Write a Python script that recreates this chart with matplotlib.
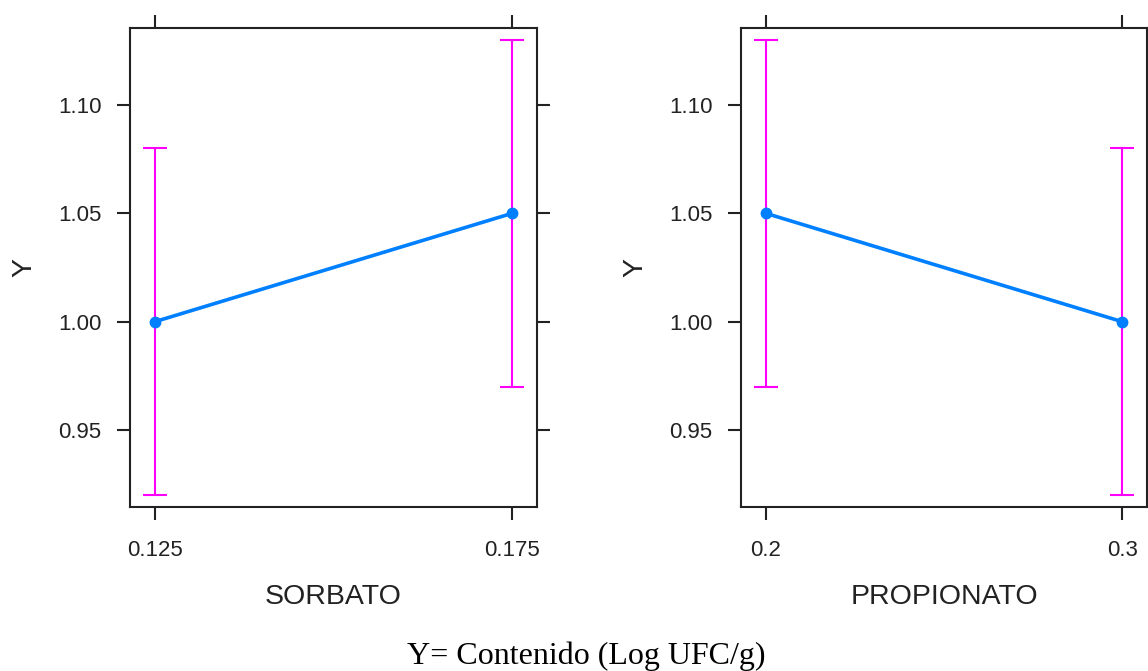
import matplotlib
matplotlib.use("Agg")
import matplotlib.pyplot as plt

# Data
sorbato_x = [0.125, 0.175]
sorbato_y = [1.00, 1.05]
sorbato_lo = [0.92, 0.97]
sorbato_hi = [1.08, 1.13]
sorbato_ticks = ["0.125", "0.175"]

propionato_x = [0.2, 0.3]
propionato_y = [1.05, 1.00]
propionato_lo = [0.97, 0.92]
propionato_hi = [1.13, 1.08]
propionato_ticks = ["0.2", "0.3"]

y_ticks = [0.95, 1.00, 1.05, 1.10]
y_ticklabels = ["0.95", "1.00", "1.05", "1.10"]
y_lim = (0.9144, 1.1356)

plt.rcParams['font.family'] = ['Liberation Sans', 'DejaVu Sans']

W, H = 1148, 671
fig = plt.figure(figsize=(W / 100, H / 100), dpi=100)

def add_panel(left_px, right_px, xs, ys, lo, hi, xt, xlabel):
    top_px, bot_px = 28, 507
    ax = fig.add_axes([left_px / W, 1 - bot_px / H, (right_px - left_px) / W, (bot_px - top_px) / H])
    span = xs[1] - xs[0]
    pad = span * 0.07
    ax.set_xlim(xs[0] - pad, xs[1] + pad)
    ax.set_ylim(*y_lim)
    for x, l, h in zip(xs, lo, hi):
        ax.errorbar([x], [(l + h) / 2], yerr=[[(h - l) / 2], [(h - l) / 2]], fmt='none',
                    ecolor='#ff00ff', elinewidth=1.5, capsize=8.5, capthick=1.5, zorder=2)
    ax.plot(xs, ys, color='#0080ff', lw=2.6, marker='o', ms=7.5, zorder=3)
    ax.set_xticks(xs)
    ax.set_xticklabels(xt)
    ax.set_yticks(y_ticks)
    ax.set_yticklabels(y_ticklabels)
    ax.tick_params(axis='both', direction='out', length=9.5, width=1.5, color='#222222',
                   labelsize=16, labelcolor='#222222', pad=11,
                   top=True, right=True, labeltop=False, labelright=False)
    ax.tick_params(axis='x', pad=14)
    for s in ax.spines.values():
        s.set_linewidth(1.5)
        s.set_color('#222222')
    ax.set_xlabel(xlabel, fontsize=20.5, color='#222222', labelpad=17)
    ax.set_ylabel("Y", fontsize=20.5, color='#222222', labelpad=15)
    return ax

add_panel(130, 537, sorbato_x, sorbato_y, sorbato_lo, sorbato_hi, sorbato_ticks, "SORBATO")
add_panel(741, 1147, propionato_x, propionato_y, propionato_lo, propionato_hi, propionato_ticks, "PROPIONATO")

fig.text(586.5 / W, 1 - 656 / H, "Y= Contenido (Log UFC/g)", ha='center', va='center',
         fontsize=23, family=['Liberation Serif', 'DejaVu Serif'], color='black')

fig.savefig("out.png", dpi=100)
